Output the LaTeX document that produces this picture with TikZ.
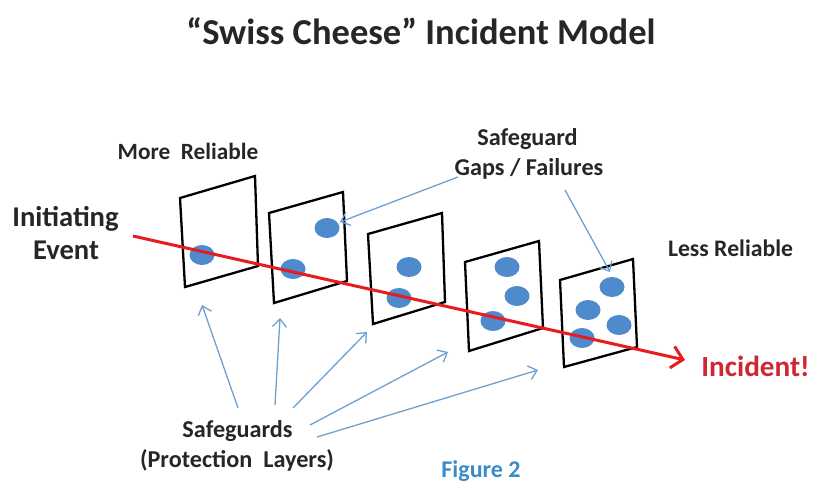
\documentclass[tikz,border=0pt]{standalone}
\usepackage{fontspec}
\setmainfont{Carlito}
\usetikzlibrary{arrows.meta}
\definecolor{dotblue}{RGB}{79,138,204}
\definecolor{arrblue}{RGB}{110,160,210}
\definecolor{incred}{RGB}{232,28,30}
\definecolor{inctext}{RGB}{205,40,48}
\definecolor{figblue}{RGB}{58,140,200}
\tikzset{
  panel/.style={draw=black,line width=2.3pt,line join=miter},
  hole/.style={fill=dotblue,draw=none},
  lbl/.style={font=\bfseries,text=black!85,inner sep=0pt,anchor=base},
  ptr/.style={draw=arrblue,line width=1.3pt,-{Straight Barb[length=8pt,width=14pt,line width=1.3pt]}},
  mainarrow/.style={draw=incred,line width=3pt,-{Straight Barb[length=11pt,width=22pt,line width=3pt]}}
}
\begin{document}
\begin{tikzpicture}[x=1pt,y=-1pt]
\useasboundingbox (0,0) rectangle (813,483);
% title
\node[lbl,font=\bfseries\fontsize{36.5}{40}\selectfont] (title) at (421,44) {“Swiss Cheese” Incident Model};
% labels
\node[lbl,font=\bfseries\fontsize{28.6}{32}\selectfont] (init1) at (65.5,226) {Initiating};
\node[lbl,font=\bfseries\fontsize{28.6}{32}\selectfont] (init2) at (66,259) {Event};
\node[lbl,font=\bfseries\fontsize{23.3}{26}\selectfont] (more) at (188,159) {More\ \ Reliable};
\node[lbl,font=\bfseries\fontsize{23.7}{26}\selectfont] (less) at (730.5,256) {Less Reliable};
\node[lbl,font=\bfseries\fontsize{24.2}{28}\selectfont] (gap1) at (527.5,145) {Safeguard};
\node[lbl,font=\bfseries\fontsize{24.2}{28}\selectfont] (gap2) at (529,175) {Gaps / Failures};
\node[lbl,font=\bfseries\fontsize{24.2}{28}\selectfont] (sg1) at (237.5,437) {Safeguards};
\node[lbl,font=\bfseries\fontsize{24.2}{28}\selectfont] (sg2) at (237,467) {(Protection\ \ Layers)};
\node[lbl,font=\bfseries\fontsize{29.2}{32}\selectfont,text=inctext] (inc) at (755.5,376) {Incident!};
\node[lbl,font=\bfseries\fontsize{24}{28}\selectfont,text=figblue] (fig) at (481,477) {Figure 2};
% panels
\draw[panel] (180,198) -- (255,176) -- (258,266) -- (185,287) -- cycle;
\draw[panel] (269,213) -- (343,192) -- (347,281) -- (274,303) -- cycle;
\draw[panel] (368,234) -- (442,213) -- (445,302) -- (373,324) -- cycle;
\draw[panel] (465,262) -- (539,241) -- (543,328) -- (469,351) -- cycle;
\draw[panel] (560,280) -- (633,259) -- (637,347) -- (564,367) -- cycle;
% holes
\path[hole] (202,255) ellipse (12.5 and 10);
\path[hole] (327,228) ellipse (12.5 and 10);
\path[hole] (293,269) ellipse (12.5 and 10);
\path[hole] (409,267) ellipse (12.5 and 10);
\path[hole] (399,298) ellipse (12.5 and 10);
\path[hole] (507,267) ellipse (12.5 and 10);
\path[hole] (517,296) ellipse (12.5 and 10);
\path[hole] (493,321) ellipse (12.5 and 10);
\path[hole] (612,287) ellipse (12.5 and 10);
\path[hole] (588,310) ellipse (12.5 and 10);
\path[hole] (619,325) ellipse (12.5 and 10);
\path[hole] (582,338) ellipse (12.5 and 10);
% coordinates
\coordinate (rs) at (133,236);
\coordinate (re) at (685,360);
\coordinate (t1) at (202,305);
\coordinate (t2) at (280,318);
\coordinate (t3) at (367,332);
\coordinate (t4) at (448,352);
\coordinate (t5) at (538,370);
\coordinate (s1) at (238,408);
\coordinate (s2) at (275,405);
\coordinate (s3) at (293,408);
\coordinate (s4) at (310,425);
\coordinate (s5) at (317,437);
\coordinate (g1s) at (458,177);
\coordinate (g1e) at (340,222);
\coordinate (g2s) at (565,190);
\coordinate (g2e) at (610,272);
% pointers
\draw[ptr] (s1) -- (t1);
\draw[ptr] (s2) -- (t2);
\draw[ptr] (s3) -- (t3);
\draw[ptr] (s4) -- (t4);
\draw[ptr] (s5) -- (t5);
\draw[ptr] (g1s) -- (g1e);
\draw[ptr] (g2s) -- (g2e);
% main arrow
\draw[mainarrow] (rs) -- (re);
\end{tikzpicture}
\end{document}
